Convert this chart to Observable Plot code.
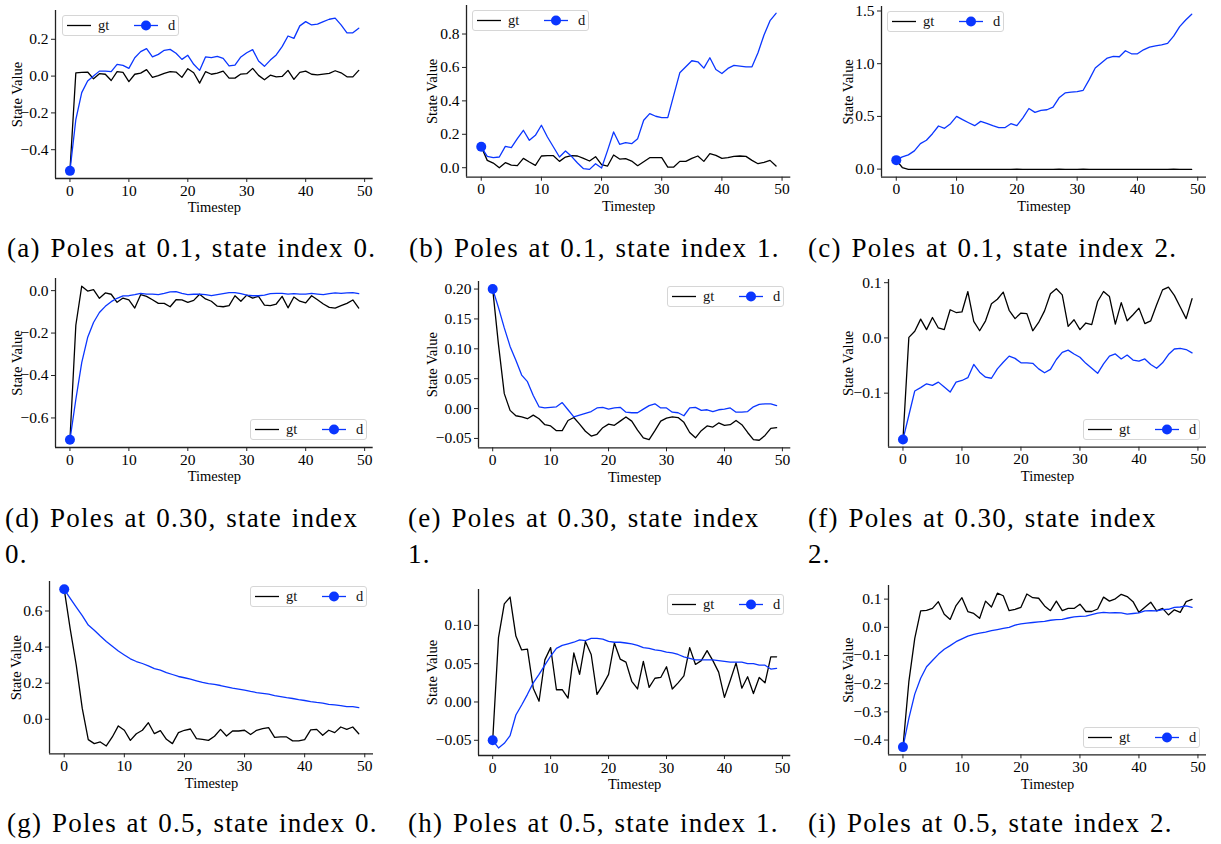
<!DOCTYPE html>
<html><head><meta charset="utf-8">
<script src="https://cdn.jsdelivr.net/npm/d3@7"></script>
<script src="https://cdn.jsdelivr.net/npm/@observablehq/plot@0.6"></script>
<style>
html,body{margin:0;padding:0;background:#fff;}
body{width:1221px;height:844px;position:relative;overflow:hidden;}
.panel{position:absolute;}
.cap{position:absolute;font-family:"Liberation Serif";font-size:27px;line-height:36px;letter-spacing:1.3px;word-spacing:1.5px;color:#000;}
.leg{position:absolute;}
</style></head><body>
<script>
// ---------- data ----------
const timesteps = Array.from({length: 50}, (_, i) => i);
const xTicks = [0, 10, 20, 30, 40, 50];
const seriesNames = ["gt", "d"];

const gtA = [-0.515,0.018,0.02,0.022,-0.015,0.013,0.01,-0.024,0.024,0.02,-0.03,0.01,0.016,0.035,-0.007,0.002,0.015,0.024,0.022,-0.007,0.04,0.018,-0.038,0.024,0.01,0.016,0.027,-0.011,-0.011,0.011,0.013,0.042,0.004,-0.02,0.005,-0.004,-0.002,0.031,-0.018,0.02,0.027,0.01,0.007,0.011,0.015,0.029,0.018,-0.004,-0.004,0.031];
const dA = [-0.515,-0.236,-0.09,-0.027,0.0,0.027,0.027,0.024,0.064,0.058,0.042,0.1,0.133,0.149,0.105,0.118,0.14,0.145,0.124,0.091,0.113,0.064,0.031,0.104,0.1,0.107,0.096,0.055,0.06,0.104,0.127,0.144,0.082,0.053,0.087,0.115,0.16,0.218,0.205,0.273,0.296,0.278,0.282,0.296,0.309,0.315,0.278,0.235,0.235,0.26];
const gtB = [0.125,0.044,0.028,0.0,0.03,0.016,0.012,0.056,0.034,0.014,0.07,0.072,0.072,0.038,0.064,0.072,0.07,0.056,0.04,0.066,0.018,0.01,0.076,0.052,0.054,0.04,0.012,0.036,0.06,0.06,0.06,0.004,0.004,0.038,0.038,0.056,0.07,0.038,0.084,0.074,0.056,0.06,0.068,0.07,0.068,0.044,0.024,0.032,0.044,0.01];
const dB = [0.125,0.068,0.06,0.064,0.128,0.12,0.174,0.224,0.164,0.194,0.254,0.184,0.124,0.064,0.1,0.068,0.028,-0.006,-0.01,0.024,-0.002,0.104,0.214,0.14,0.15,0.144,0.174,0.284,0.324,0.308,0.3,0.3,0.434,0.568,0.604,0.64,0.634,0.596,0.658,0.588,0.564,0.594,0.612,0.608,0.604,0.604,0.688,0.794,0.88,0.924];
const gtC = [0.085,0.015,-0.002,-0.003,-0.003,-0.002,-0.002,-0.003,-0.002,-0.002,-0.003,-0.003,-0.003,-0.002,-0.002,-0.003,-0.003,-0.003,-0.002,-0.002,-0.001,-0.002,-0.003,-0.003,-0.002,-0.002,-0.002,-0.001,-0.002,-0.002,-0.002,-0.001,-0.002,-0.002,-0.003,-0.002,-0.002,-0.002,-0.003,-0.003,-0.002,-0.002,-0.002,-0.002,-0.002,-0.002,-0.001,-0.002,-0.002,-0.002];
const dC = [0.085,0.116,0.135,0.173,0.242,0.274,0.336,0.409,0.387,0.431,0.5,0.469,0.44,0.412,0.453,0.434,0.412,0.393,0.393,0.431,0.412,0.487,0.575,0.538,0.557,0.563,0.588,0.676,0.723,0.73,0.736,0.748,0.849,0.959,1.006,1.053,1.069,1.066,1.123,1.094,1.094,1.132,1.157,1.17,1.179,1.192,1.261,1.352,1.415,1.469];
const gtD = [-0.703,-0.163,0.021,-0.002,0.005,-0.036,-0.011,-0.017,-0.055,-0.035,-0.043,-0.082,-0.019,-0.027,-0.043,-0.06,-0.06,-0.076,-0.043,-0.044,-0.055,-0.046,-0.017,-0.039,-0.05,-0.073,-0.076,-0.071,-0.024,-0.05,-0.021,-0.035,-0.027,-0.068,-0.071,-0.063,-0.027,-0.081,-0.03,-0.05,-0.058,-0.024,-0.043,-0.063,-0.079,-0.082,-0.071,-0.06,-0.044,-0.082];
const dD = [-0.703,-0.513,-0.339,-0.221,-0.15,-0.103,-0.074,-0.052,-0.036,-0.025,-0.024,-0.019,-0.013,-0.016,-0.016,-0.019,-0.013,-0.006,-0.005,-0.013,-0.019,-0.017,-0.016,-0.019,-0.024,-0.019,-0.014,-0.009,-0.009,-0.014,-0.021,-0.024,-0.024,-0.021,-0.014,-0.013,-0.013,-0.016,-0.014,-0.016,-0.016,-0.013,-0.016,-0.019,-0.014,-0.011,-0.013,-0.011,-0.009,-0.014];
const gtE = [0.2,0.107,0.025,-0.003,-0.012,-0.014,-0.017,-0.011,-0.017,-0.027,-0.029,-0.037,-0.037,-0.02,-0.015,-0.026,-0.038,-0.046,-0.043,-0.032,-0.026,-0.028,-0.021,-0.014,-0.021,-0.036,-0.049,-0.052,-0.037,-0.021,-0.016,-0.014,-0.015,-0.023,-0.04,-0.049,-0.037,-0.029,-0.031,-0.024,-0.028,-0.027,-0.02,-0.027,-0.04,-0.052,-0.053,-0.045,-0.033,-0.032];
const dE = [0.2,0.169,0.135,0.104,0.081,0.056,0.045,0.022,0.003,0.001,0.002,0.003,0.01,-0.002,-0.014,-0.011,-0.008,-0.005,0.001,0.002,-0.001,0.001,0.002,-0.006,-0.007,-0.007,-0.001,0.005,0.008,0.001,0.001,-0.006,-0.007,-0.012,0.001,0.002,-0.003,-0.002,-0.005,-0.002,-0.001,0.001,-0.006,-0.006,-0.005,0.003,0.007,0.008,0.008,0.005];
const gtF = [-0.184,0.001,0.012,0.034,0.015,0.037,0.018,0.015,0.051,0.046,0.047,0.084,0.03,0.013,0.031,0.062,0.07,0.083,0.05,0.035,0.045,0.044,0.013,0.028,0.049,0.08,0.089,0.078,0.021,0.033,0.015,0.027,0.024,0.066,0.084,0.075,0.025,0.064,0.031,0.042,0.054,0.026,0.031,0.06,0.087,0.092,0.077,0.056,0.035,0.071];
const dF = [-0.184,-0.14,-0.096,-0.09,-0.083,-0.086,-0.08,-0.089,-0.098,-0.08,-0.077,-0.072,-0.048,-0.062,-0.071,-0.073,-0.056,-0.044,-0.033,-0.037,-0.045,-0.045,-0.046,-0.056,-0.063,-0.057,-0.039,-0.026,-0.022,-0.029,-0.035,-0.046,-0.055,-0.064,-0.047,-0.033,-0.029,-0.038,-0.031,-0.04,-0.042,-0.038,-0.048,-0.055,-0.045,-0.03,-0.02,-0.019,-0.021,-0.027];
const gtG = [0.72,0.5,0.3,0.06,-0.113,-0.135,-0.126,-0.148,-0.098,-0.037,-0.061,-0.117,-0.08,-0.061,-0.019,-0.08,-0.063,-0.111,-0.135,-0.074,-0.061,-0.054,-0.107,-0.111,-0.117,-0.094,-0.056,-0.093,-0.065,-0.065,-0.061,-0.085,-0.061,-0.052,-0.046,-0.1,-0.098,-0.098,-0.12,-0.12,-0.113,-0.059,-0.056,-0.089,-0.061,-0.074,-0.043,-0.056,-0.043,-0.08];
const dG = [0.72,0.67,0.622,0.574,0.522,0.493,0.461,0.431,0.404,0.378,0.356,0.335,0.32,0.309,0.296,0.281,0.272,0.259,0.248,0.237,0.23,0.222,0.213,0.204,0.198,0.193,0.187,0.18,0.172,0.167,0.161,0.154,0.148,0.144,0.139,0.131,0.126,0.12,0.115,0.109,0.104,0.098,0.093,0.089,0.083,0.08,0.076,0.07,0.07,0.065];
const gtH = [-0.05,0.084,0.128,0.137,0.086,0.068,0.069,0.018,0.001,0.055,0.071,0.016,0.016,0.005,0.064,0.036,0.079,0.062,0.01,0.022,0.036,0.077,0.056,0.052,0.027,0.017,0.053,0.019,0.031,0.032,0.046,0.017,0.025,0.034,0.071,0.049,0.054,0.067,0.054,0.039,0.006,0.028,0.051,0.018,0.033,0.011,0.032,0.025,0.059,0.059];
const dH = [-0.05,-0.06,-0.054,-0.044,-0.017,-0.004,0.01,0.025,0.036,0.048,0.06,0.07,0.074,0.076,0.078,0.081,0.08,0.083,0.083,0.082,0.079,0.078,0.078,0.077,0.076,0.074,0.071,0.07,0.068,0.067,0.065,0.064,0.062,0.059,0.057,0.055,0.055,0.055,0.055,0.054,0.053,0.052,0.052,0.052,0.05,0.05,0.048,0.048,0.043,0.044];
const gtI = [-0.425,-0.193,-0.039,0.058,0.06,0.067,0.091,0.046,0.028,0.077,0.105,0.056,0.049,0.032,0.093,0.072,0.121,0.112,0.059,0.064,0.071,0.118,0.105,0.103,0.076,0.059,0.093,0.059,0.067,0.067,0.082,0.056,0.056,0.065,0.107,0.093,0.101,0.117,0.109,0.091,0.053,0.071,0.089,0.058,0.067,0.044,0.062,0.053,0.091,0.099];
const dI = [-0.425,-0.323,-0.237,-0.181,-0.14,-0.118,-0.096,-0.078,-0.065,-0.051,-0.041,-0.031,-0.025,-0.021,-0.017,-0.012,-0.008,-0.004,0.0,0.008,0.012,0.015,0.017,0.019,0.021,0.025,0.027,0.028,0.033,0.037,0.039,0.04,0.045,0.05,0.053,0.051,0.052,0.051,0.047,0.049,0.051,0.058,0.059,0.058,0.063,0.064,0.071,0.072,0.076,0.071];

const yTicksA = [-0.4, -0.2, 0, 0.2];
const yTicksB = [0, 0.2, 0.4, 0.6, 0.8];
const yTicksC = [0, 0.5, 1.0, 1.5];
const yTicksD = [-0.6, -0.4, -0.2, 0];
const yTicksE = [-0.05, 0, 0.05, 0.10, 0.15, 0.20];
const yTicksF = [-0.1, 0, 0.1];
const yTicksG = [0, 0.2, 0.4, 0.6];
const yTicksH = [-0.05, 0, 0.05, 0.10];
const yTicksI = [-0.4, -0.3, -0.2, -0.1, 0, 0.1];

const captions = [
  "(a) Poles at 0.1, state index 0.", "(b) Poles at 0.1, state index 1.", "(c) Poles at 0.1, state index 2.",
  "(d) Poles at 0.30, state index 0.", "(e) Poles at 0.30, state index 1.", "(f) Poles at 0.30, state index 2.",
  "(g) Poles at 0.5, state index 0.", "(h) Poles at 0.5, state index 1.", "(i) Poles at 0.5, state index 2."
];

// ---------- layout / style ----------
const BLUE = "#0a36ff";
const FONT = "Liberation Serif";
const panels = [
  {gt: gtA, d: dA, ticks: yTicksA, frame: [55, 372.7, 10, 178], lo: 44, leg: "ul", dec: 1},
  {gt: gtB, d: dB, ticks: yTicksB, frame: [465.7, 790, 5, 176.7], lo: 39.5, leg: "ul", dec: 1},
  {gt: gtC, d: dC, ticks: yTicksC, frame: [880.7, 1205.7, 6, 176.7], lo: 38.5, leg: "ul", dec: 1},
  {gt: gtD, d: dD, ticks: yTicksD, frame: [55, 372.7, 277.7, 446.7], lo: 44, leg: "lr", dec: 1},
  {gt: gtE, d: dE, ticks: yTicksE, frame: [477.7, 790, 281, 447.3], lo: 51.5, leg: "ur", dec: 2},
  {gt: gtF, d: dF, ticks: yTicksF, frame: [887.7, 1205.7, 279, 446.7], lo: 45.5, leg: "lr", dec: 1},
  {gt: gtG, d: dG, ticks: yTicksG, frame: [49.3, 373.3, 581, 753.3], lo: 38.5, leg: "ur", dec: 1},
  {gt: gtH, d: dH, ticks: yTicksH, frame: [477.7, 790, 589, 755], lo: 51.5, leg: "ur", dec: 2},
  {gt: gtI, d: dI, ticks: yTicksI, frame: [887.7, 1205.7, 585, 754.3], lo: 45.5, leg: "lr", dec: 1}
];
const capPos = [[7, 230], [409, 230], [808, 230], [5, 500], [408, 500], [808, 500], [7, 805], [408, 805], [808, 805]];

const ML = 75, MR = 10, MT = 8, MB = 42;
const LEGW = 117, LEGH = 21;

function legendSVG() {
  const ns = "http://www.w3.org/2000/svg";
  return `<svg xmlns="${ns}" width="${LEGW}" height="${LEGH}" style="display:block">
    <rect x="0.5" y="0.5" width="${LEGW - 1}" height="${LEGH - 1}" rx="2.5" fill="rgba(255,255,255,0.8)" stroke="#d6d6d6" stroke-width="1"/>
    <line x1="5" x2="29" y1="10.5" y2="10.5" stroke="#000" stroke-width="1.3"/>
    <text x="36" y="15" font-family="${FONT}" font-size="14.5" fill="#111">${seriesNames[0]}</text>
    <line x1="72" x2="96" y1="10.5" y2="10.5" stroke="${BLUE}" stroke-width="1.3"/>
    <circle cx="84" cy="10.5" r="5" fill="${BLUE}"/>
    <text x="106" y="15" font-family="${FONT}" font-size="14.5" fill="#111">${seriesNames[1]}</text>
  </svg>`;
}

panels.forEach((p, k) => {
  const [L, R, T, B] = p.frame;
  const all = p.gt.concat(p.d);
  const lo = d3.min(all), hi = d3.max(all);
  const pad = (hi - lo) * 0.05;
  const yDom = [lo - pad, hi + pad];
  const xPad = (timesteps[timesteps.length - 1] - timesteps[0]) * 0.05;
  const xDom = [timesteps[0] - xPad, timesteps[timesteps.length - 1] + xPad];
  const fmt = d3.format("." + p.dec + "f");
  const chart = Plot.plot({
    width: R - L + ML + MR,
    height: B - T + MT + MB,
    marginLeft: ML, marginRight: MR, marginTop: MT, marginBottom: MB,
    style: {fontFamily: FONT, fontSize: "15px", background: "transparent", overflow: "visible", maxWidth: "none", color: "#000"},
    x: {domain: xDom},
    y: {domain: yDom},
    marks: [
      Plot.axisX({ticks: xTicks, tickSize: 4, tickPadding: 2, tickFormat: d => String(d), label: null, fontSize: 15.5, stroke: "#222"}),
      Plot.axisX({ticks: [], tickSize: 0, label: "Timestep", labelAnchor: "center", labelOffset: 34, labelArrow: "none", fontSize: 14.5}),
      Plot.axisY({ticks: p.ticks, tickSize: 4, tickPadding: 3, tickFormat: fmt, label: null, fontSize: 15.5, stroke: "#222"}),
      Plot.axisY({ticks: [], tickSize: 0, label: "State Value", labelAnchor: "center", labelOffset: p.lo, labelArrow: "none", fontSize: 14.5}),
      Plot.ruleX([xDom[0]], {stroke: "#222", strokeWidth: 1.3}),
      Plot.ruleY([yDom[0]], {stroke: "#222", strokeWidth: 1.3}),
      Plot.line(timesteps, {x: t => t, y: t => p.gt[t], stroke: "#000", strokeWidth: 1.3}),
      Plot.line(timesteps, {x: t => t, y: t => p.d[t], stroke: BLUE, strokeWidth: 1.3}),
      Plot.dot([timesteps[0]], {x: t => t, y: t => p.d[t], r: 5, fill: BLUE, stroke: "none"})
    ]
  });
  const div = document.createElement("div");
  div.className = "panel";
  div.style.left = (L - ML) + "px";
  div.style.top = (T - MT) + "px";
  div.appendChild(chart);
  document.body.appendChild(div);

  const leg = document.createElement("div");
  leg.className = "leg";
  let lx, ly;
  if (p.leg === "ul") { lx = L + 6.5; ly = T + 5; }
  else if (p.leg === "ur") { lx = R - 6 - LEGW; ly = T + 5; }
  else { lx = R - 6 - LEGW; ly = B - 6.5 - LEGH; }
  leg.style.left = lx + "px";
  leg.style.top = ly + "px";
  leg.innerHTML = legendSVG();
  document.body.appendChild(leg);

  const cap = document.createElement("div");
  cap.className = "cap";
  cap.style.left = capPos[k][0] + "px";
  cap.style.top = capPos[k][1] + "px";
  if (k >= 3 && k <= 5) { cap.style.width = "372px"; cap.style.whiteSpace = "normal"; }
  else { cap.style.whiteSpace = "nowrap"; }
  cap.textContent = captions[k];
  document.body.appendChild(cap);
});
</script>
</body></html>
